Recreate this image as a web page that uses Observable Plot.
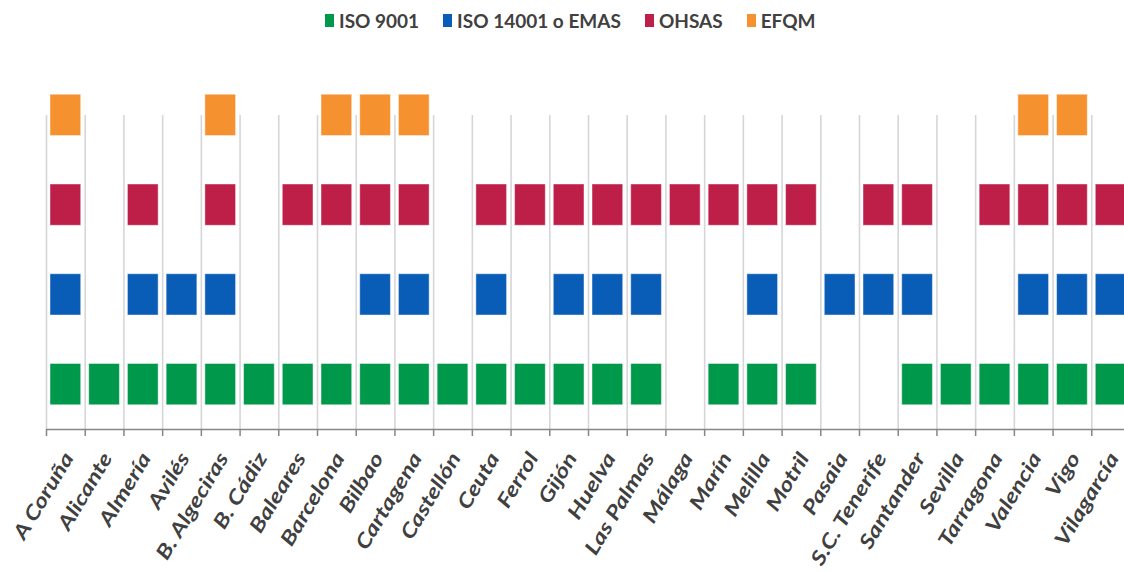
<!DOCTYPE html>
<html>
<head>
<meta charset="utf-8">
<script src="https://cdn.jsdelivr.net/npm/d3@7"></script>
<script src="https://cdn.jsdelivr.net/npm/@observablehq/plot@0.6"></script>
<style>
  body { margin: 0; background: #fff; width: 1124px; height: 572px; overflow: hidden; font-family: Lato, "Open Sans", sans-serif; }
  #legend { height: 40px; display: flex; align-items: center; padding-left: 325px; box-sizing: border-box; }
  .item { display: flex; align-items: center; margin-right: 24px; font-size: 19px; font-weight: 700; color: #404040; }
  .swatch { width: 9px; height: 13px; margin-right: 5px; }
</style>
</head>
<body>
<div id="legend"></div>
<div id="chart"></div>
<script>
// Spanish port authorities and the management certifications each one holds
const ports = ["A Coruña", "Alicante", "Almería", "Avilés", "B. Algeciras", "B. Cádiz", "Baleares",
  "Barcelona", "Bilbao", "Cartagena", "Castellón", "Ceuta", "Ferrol", "Gijón", "Huelva",
  "Las Palmas", "Málaga", "Marín", "Melilla", "Motril", "Pasaia", "S.C. Tenerife", "Santander",
  "Sevilla", "Tarragona", "Valencia", "Vigo", "Vilagarcía"];

const series = ["ISO 9001", "ISO 14001 o EMAS", "OHSAS", "EFQM"];
const colors = ["#00984a", "#0a5db6", "#bd1f49", "#f5912f"];

// 1 = certified, 0 = not certified (same order as ports)
const iso9001  = [1,1,1,1,1,1,1,1,1,1,1,1,1,1,1,1,0,1,1,1,0,0,1,1,1,1,1,1];
const iso14001 = [1,0,1,1,1,0,0,0,1,1,0,1,0,1,1,1,0,0,1,0,1,1,1,0,0,1,1,1];
const ohsas    = [1,0,1,0,1,0,1,1,1,1,0,1,1,1,1,1,1,1,1,1,0,1,1,0,1,1,1,1];
const efqm     = [1,0,0,0,1,0,0,1,1,1,0,0,0,0,0,0,0,0,0,0,0,0,0,0,0,1,1,0];

const flags = [iso9001, iso14001, ohsas, efqm];

// one cell per (port, certification) that is held; each certification sits on its own row
const cells = series.flatMap((s, i) =>
  ports.filter((p, j) => flags[i][j]).map(p => ({port: p, series: s, row: i + 0.5}))
);

// legend
const legend = d3.select("#legend");
series.forEach((s, i) => {
  const item = legend.append("div").attr("class", "item");
  item.append("div").attr("class", "swatch").style("background", colors[i]);
  item.append("span").text(s);
});

const xRange = [46, 1130];
const bw = (xRange[1] - xRange[0]) / ports.length;
const half = 0.23;

const chart = Plot.plot({
  width: 1124,
  height: 532,
  marginTop: 30,
  marginBottom: 143,
  marginLeft: 46,
  marginRight: 0,
  style: {fontFamily: "Lato, 'Open Sans', sans-serif", background: "#fff", overflow: "visible"},
  x: {type: "band", domain: ports, range: xRange, padding: 0, round: false},
  y: {domain: [0, 4], axis: null},
  color: {domain: series, range: colors},
  marks: [
    // category separators
    Plot.ruleX(ports, {x: d => d, y1: 0, y2: 3.5, dx: -bw / 2, stroke: "#d6d6d6", strokeWidth: 1.6}),
    // certification squares
    Plot.barY(cells, {
      x: "port",
      y1: d => d.row - half,
      y2: d => d.row + half,
      fill: "series",
      insetLeft: 4,
      insetRight: 4,
      stroke: "#fff",
      strokeOpacity: 0.45,
      strokeWidth: 1
    }),
    // baseline and its tick marks
    Plot.ruleY([0], {stroke: "#868686", strokeWidth: 1.5}),
    Plot.ruleX(ports, {x: d => d, y1: 0, y2: 0, insetBottom: -7, dx: -bw / 2, stroke: "#868686", strokeWidth: 1.5}),
    Plot.axisX({
      tickSize: 0,
      tickPadding: 0,
      tickRotate: -59,
      textAnchor: "end",
      dx: 3,
      dy: 25,
      fontSize: 20,
      fontStyle: "italic",
      fontWeight: 700,
      fill: "#404040",
      label: null
    })
  ]
});

// widen the slanted port names along their baseline
d3.select(chart).selectAll('g[aria-label="x-axis tick label"] text')
  .attr("transform", function () { return this.getAttribute("transform") + " scale(1.24,1)"; });

document.getElementById("chart").append(chart);
</script>
</body>
</html>
